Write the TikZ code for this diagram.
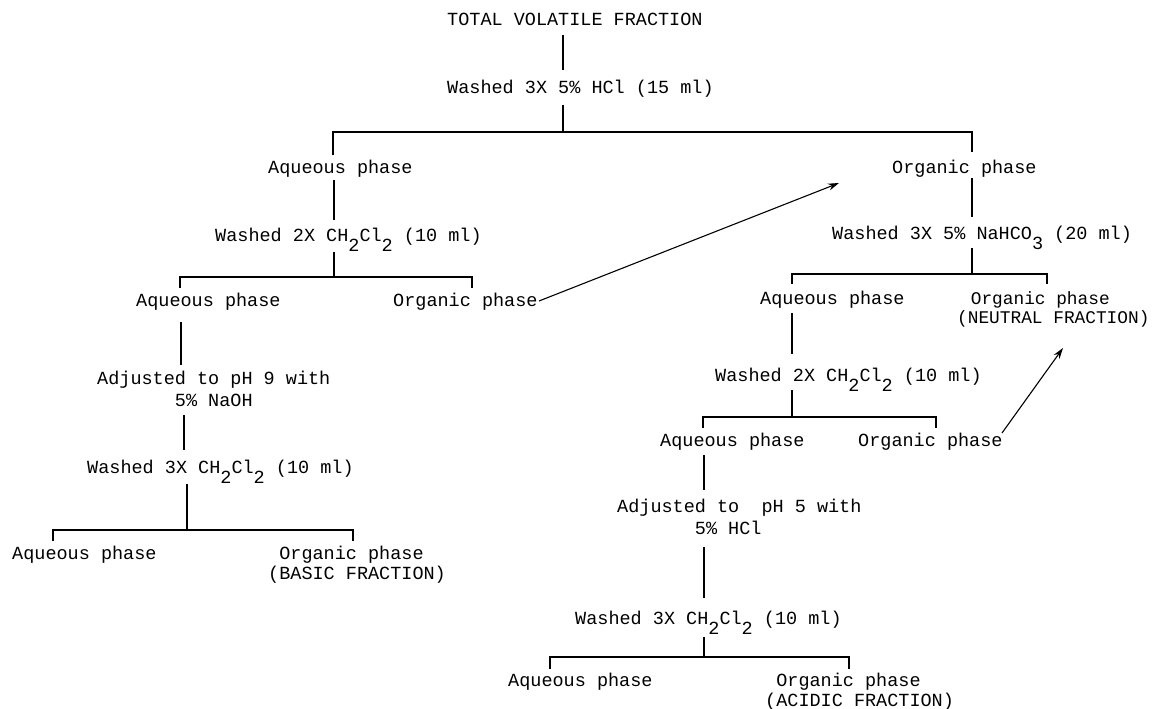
\documentclass[tikz,border=0pt]{standalone}
\usepackage{fontspec}
\setmonofont{Liberation Mono}
\usetikzlibrary{arrows.meta}
\newcommand\lowsub[1]{\raisebox{-10pt}{#1}}
\newcommand\twolines[2]{\begin{tabular}[t]{@{}l@{}}#1\\#2\end{tabular}}
\begin{document}
\begin{tikzpicture}[x=1pt,y=-1pt,
  lbl/.style={anchor=base west, inner sep=0pt, font=\ttfamily\fontsize{18.5}{20}\selectfont},
  adj/.style={lbl, font=\ttfamily\fontsize{18.5}{22.5}\selectfont},
  narrow/.style={lbl, font=\ttfamily\fontsize{17.8}{19}\selectfont},
  conn/.style={line width=1.1pt},
  flow/.style={line width=1.1pt, -{Stealth[length=11pt,width=7pt]}}]
\useasboundingbox[fill=white] (0,0) rectangle (1152,709);

% ---------- labels ----------
\node[lbl] (t0)   at (447,26)  {TOTAL VOLATILE FRACTION};
\node[lbl] (w1)   at (447,94)  {Washed 3X 5\% HCl (15 ml)};
\node[lbl] (aq1)  at (268,173) {Aqueous phase};
\node[lbl] (org1) at (892,173) {Organic phase};
\node[lbl] (w2)   at (215,241) {Washed 2X CH\lowsub{2}Cl\lowsub{2} (10 ml)};
\node[lbl] (aq2)  at (136,306) {Aqueous phase};
\node[lbl] (org2) at (393,306) {Organic phase};
\node[adj] (adj9) at (97,384)  {\twolines{Adjusted to pH 9 with}{\phantom{Adjuste}5\% NaOH}};
\node[lbl] (w3)   at (87,473)  {Washed 3X CH\lowsub{2}Cl\lowsub{2} (10 ml)};
\node[lbl] (aq3)  at (12,559)  {Aqueous phase};
\node[lbl] (org3) at (268,559) {\twolines{\phantom{(}Organic phase}{(BASIC FRACTION)}};
\node[lbl] (w4)   at (832,239) {Washed 3X 5\% NaHCO\lowsub{3} (20 ml)};
\node[lbl] (aq4)  at (760,304) {Aqueous phase};
\node[narrow] (org4) at (957,304) {\twolines{\phantom{(}\,Organic phase}{(NEUTRAL FRACTION)}};
\node[lbl] (w5)   at (715,381) {Washed 2X CH\lowsub{2}Cl\lowsub{2} (10 ml)};
\node[lbl] (aq5)  at (660,446) {Aqueous phase};
\node[lbl] (org5) at (858,446) {Organic phase};
\node[adj] (adj5) at (617,512) {\twolines{Adjusted to\ \ pH 5 with}{\phantom{Adjuste}5\% HCl}};
\node[lbl] (w6)   at (575,624) {Washed 3X CH\lowsub{2}Cl\lowsub{2} (10 ml)};
\node[lbl] (aq6)  at (508,686) {Aqueous phase};
\node[lbl] (org6) at (765,686) {\twolines{\phantom{(}Organic phase}{(ACIDIC FRACTION)}};

% ---------- connector points ----------
\coordinate (t0b) at (563,35);  \coordinate (w1t) at (563,70);
\coordinate (w1b) at (563,105); \coordinate (s1) at (563,132);
\coordinate (s1l) at (333,132); \coordinate (aq1t) at (333,155);
\coordinate (s1r) at (972,132); \coordinate (org1t) at (972,152);

\coordinate (aq1b) at (334,180); \coordinate (w2t) at (334,220);
\coordinate (w2b) at (334,252);  \coordinate (s2) at (334,277);
\coordinate (s2l) at (180,277);  \coordinate (aq2t) at (180,288);
\coordinate (s2r) at (472,277);  \coordinate (org2t) at (472,288);

\coordinate (aq2b) at (181,322); \coordinate (adj9t) at (181,365);
\coordinate (adj9b) at (184,415); \coordinate (w3t) at (184,450);
\coordinate (w3b) at (187,484);  \coordinate (s3) at (187,530);
\coordinate (s3l) at (53,530);   \coordinate (aq3t) at (53,541);
\coordinate (s3r) at (353,530);  \coordinate (org3t) at (353,541);

\coordinate (org1b) at (972,178); \coordinate (w4t) at (972,217);
\coordinate (w4b) at (972,248);  \coordinate (s4) at (972,274);
\coordinate (s4l) at (792,274);  \coordinate (aq4t) at (792,284);
\coordinate (s4r) at (1047,274); \coordinate (org4t) at (1047,284);

\coordinate (aq4b) at (792,313); \coordinate (w5t) at (792,354);
\coordinate (w5b) at (792,390);  \coordinate (s5) at (792,417);
\coordinate (s5l) at (703,417);  \coordinate (aq5t) at (703,428);
\coordinate (s5r) at (936,417);  \coordinate (org5t) at (936,428);

\coordinate (aq5b) at (704,455); \coordinate (adj5t) at (704,490);
\coordinate (adj5b) at (704,547); \coordinate (w6t) at (704,598);
\coordinate (w6b) at (704,637);  \coordinate (s6) at (704,657);
\coordinate (s6l) at (550,657);  \coordinate (aq6t) at (550,669);
\coordinate (s6r) at (849,657);  \coordinate (org6t) at (849,669);

\coordinate (org2e) at (539,301); \coordinate (to1) at (839,183);
\coordinate (org5e) at (1002,433); \coordinate (to4) at (1063,348);

% ---------- connectors ----------
\draw[conn] (t0b) -- (w1t);
\draw[conn] (w1b) -- (s1);
\draw[conn] (aq1t) -- (s1l) -- (s1r) -- (org1t);

\draw[conn] (aq1b) -- (w2t);
\draw[conn] (w2b) -- (s2);
\draw[conn] (aq2t) -- (s2l) -- (s2r) -- (org2t);

\draw[conn] (aq2b) -- (adj9t);
\draw[conn] (adj9b) -- (w3t);
\draw[conn] (w3b) -- (s3);
\draw[conn] (aq3t) -- (s3l) -- (s3r) -- (org3t);

\draw[conn] (org1b) -- (w4t);
\draw[conn] (w4b) -- (s4);
\draw[conn] (aq4t) -- (s4l) -- (s4r) -- (org4t);

\draw[conn] (aq4b) -- (w5t);
\draw[conn] (w5b) -- (s5);
\draw[conn] (aq5t) -- (s5l) -- (s5r) -- (org5t);

\draw[conn] (aq5b) -- (adj5t);
\draw[conn] (adj5b) -- (w6t);
\draw[conn] (w6b) -- (s6);
\draw[conn] (aq6t) -- (s6l) -- (s6r) -- (org6t);

\draw[flow] (org2e) -- (to1);
\draw[flow] (org5e) -- (to4);
\end{tikzpicture}
\end{document}
